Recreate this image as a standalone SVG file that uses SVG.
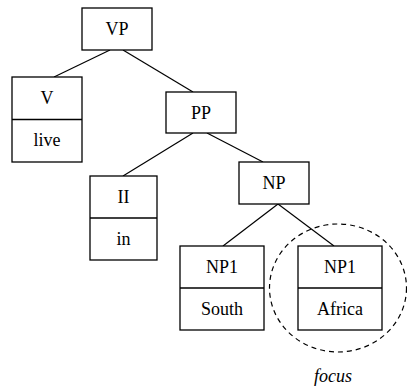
<svg xmlns="http://www.w3.org/2000/svg" width="407" height="387" viewBox="0 0 407 387">
<style>
.box{fill:#fff;stroke:#000;stroke-width:1.3}
.div{stroke:#000;stroke-width:1.3}
.t{font-size:18px;text-anchor:middle;fill:#000}
.edge{stroke:#000;stroke-width:1.2;fill:none}
</style>
<rect width="407" height="387" fill="#fff"/>
<g id="connectors">
<line class="edge" x1="110" y1="50" x2="54" y2="77"/>
<line class="edge" x1="123" y1="50" x2="193" y2="92"/>
<line class="edge" x1="193" y1="133" x2="123" y2="176"/>
<line class="edge" x1="207" y1="133" x2="263" y2="162"/>
<line class="edge" x1="278" y1="204" x2="223" y2="246"/>
<line class="edge" x1="278" y1="204" x2="334" y2="246"/>
</g>
<g font-family="Liberation Serif, Times New Roman, serif">
<g id="VP"><rect class="box" x="82" y="8" width="70" height="42"/><text class="t" x="117" y="35">VP</text></g>
<g id="V"><rect class="box" x="12" y="77" width="70" height="85"/><line class="div" x1="12" y1="119.5" x2="82" y2="119.5"/><text class="t" x="47" y="104">V</text><text class="t" x="47" y="146">live</text></g>
<g id="PP"><rect class="box" x="166" y="92" width="70" height="41"/><text class="t" x="201" y="119">PP</text></g>
<g id="II"><rect class="box" x="90" y="176" width="67" height="84"/><line class="div" x1="90" y1="218" x2="157" y2="218"/><text class="t" x="123.5" y="203">II</text><text class="t" x="123.5" y="245">in</text></g>
<g id="NP"><rect class="box" x="239" y="162" width="70" height="42"/><text class="t" x="274" y="189">NP</text></g>
<g id="NP1-South"><rect class="box" x="180" y="246" width="84" height="84"/><line class="div" x1="180" y1="288" x2="264" y2="288"/><text class="t" x="222" y="273">NP1</text><text class="t" x="222" y="315">South</text></g>
<g id="NP1-Africa"><rect class="box" x="298" y="246" width="84" height="84"/><line class="div" x1="298" y1="288" x2="382" y2="288"/><text class="t" x="340" y="273">NP1</text><text class="t" x="340" y="315">Africa</text></g>
<g id="focus"><ellipse cx="338" cy="288" rx="68.5" ry="64" fill="none" stroke="#000" stroke-width="1.2" stroke-dasharray="5,4"/><text class="t" x="333" y="382" font-style="italic">focus</text></g>
</g>
</svg>
